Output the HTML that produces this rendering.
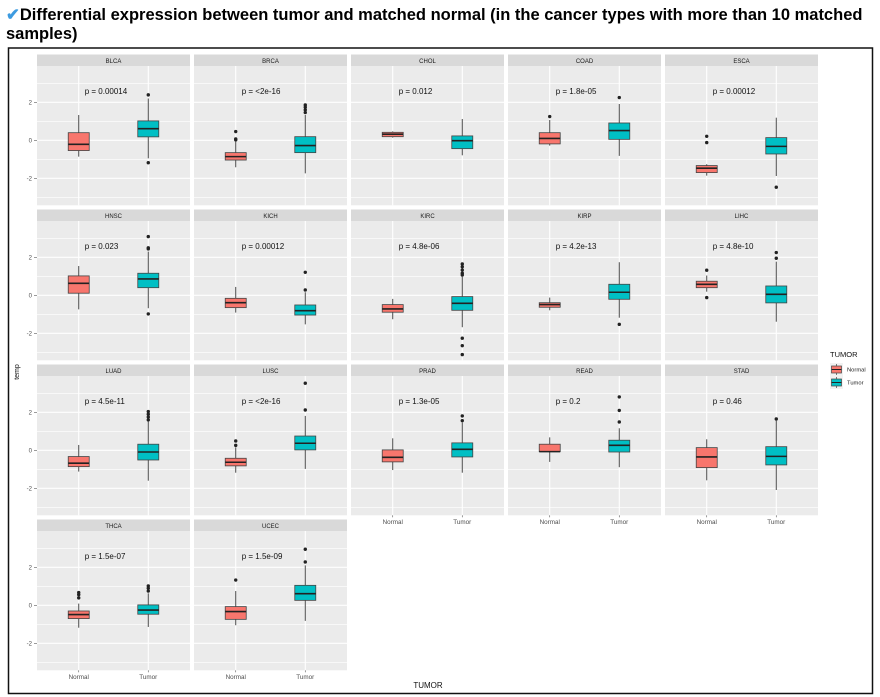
<!DOCTYPE html>
<html><head><meta charset="utf-8"><style>
html,body{margin:0;padding:0;background:#fff;width:880px;height:697px;overflow:hidden}
#title{position:absolute;left:6px;top:6px;width:870px;font:bold 16.5px "Liberation Sans",sans-serif;line-height:19px;color:#000}
#title .chk{color:#3d9be0}
svg{position:absolute;left:0;top:0}
text{font-family:"Liberation Sans",sans-serif}
</style></head><body>
<div id="title"><span class="chk">✔</span>Differential expression between tumor and matched normal (in the cancer types with more than 10 matched samples)</div>
<svg id="chart" width="880" height="697">
<rect x="8.5" y="48" width="864" height="645.5" fill="none" stroke="#111" stroke-width="1.5"/>
</svg>
<script>
const cancers=["BLCA","BRCA","CHOL","COAD","ESCA","HNSC","KICH","KIRC","KIRP","LIHC","LUAD","LUSC","PRAD","READ","STAD","THCA","UCEC"];
const pvals=["0.00014","<2e-16","0.012","1.8e-05","0.00012","0.023","0.00012","4.8e-06","4.2e-13","4.8e-10","4.5e-11","<2e-16","1.3e-05","0.2","0.46","1.5e-07","1.5e-09"];
// [lowWhisker, q1, median, q3, highWhisker]
const normalStats=[[-0.86,-0.54,-0.21,0.40,1.33],[-1.42,-1.04,-0.86,-0.65,-0.07],[0.14,0.19,0.32,0.42,0.47],[-0.28,-0.19,0.10,0.40,1.07],[-1.86,-1.70,-1.47,-1.33,-1.26],[-0.74,0.11,0.63,1.02,1.54],[-0.91,-0.65,-0.39,-0.16,0.44],[-1.26,-0.89,-0.72,-0.49,-0.19],[-0.79,-0.63,-0.49,-0.39,-0.12],[0.19,0.40,0.58,0.74,1.04],[-1.12,-0.86,-0.68,-0.33,0.28],[-1.18,-0.82,-0.63,-0.42,0.16],[-1.04,-0.61,-0.37,0.02,0.63],[-0.61,-0.07,-0.07,0.32,0.68],[-1.58,-0.91,-0.35,0.14,0.58],[-1.18,-0.70,-0.49,-0.30,0.09],[-1.05,-0.74,-0.33,-0.07,0.75]];
const tumorStats=[[-0.95,0.18,0.61,1.02,2.2],[-1.74,-0.65,-0.28,0.19,1.33],[-0.79,-0.44,-0.02,0.23,1.12],[-0.82,0.05,0.51,0.91,1.91],[-1.88,-0.72,-0.32,0.14,1.19],[-0.68,0.40,0.86,1.16,2.3],[-1.53,-1.04,-0.81,-0.51,0.16],[-1.68,-0.79,-0.42,-0.07,0.98],[-1.18,-0.21,0.16,0.58,1.74],[-1.39,-0.40,0.05,0.49,1.77],[-1.60,-0.51,-0.09,0.32,1.51],[-0.98,0.02,0.37,0.75,1.81],[-1.18,-0.35,0.05,0.39,1.46],[-0.89,-0.09,0.26,0.53,1.16],[-2.09,-0.77,-0.32,0.19,1.56],[-1.14,-0.47,-0.25,0.02,0.63],[-0.82,0.26,0.61,1.05,2.1]];
const normalOutliers=[[],[0.46,0.07,0.02],[],[1.25],[0.21,-0.12],[],[],[],[],[1.32,-0.12],[],[0.49,0.26],[],[],[],[0.67,0.56,0.39],[1.33]];
const tumorOutliers=[[2.39,-1.18],[1.86,1.74,1.6,1.46],[],[2.25],[-2.47],[3.09,2.5,2.44,-0.98],[1.21,0.28],[1.65,1.5,1.33,1.16,1.07,-2.26,-2.65,-3.12],[-1.53],[2.25,1.95],[2.04,1.9,1.75,1.6],[3.53,2.12],[1.81,1.56],[2.81,2.1,1.49],[1.65],[1.02,0.9,0.75],[2.95,2.28]];
const groups=["Normal","Tumor"];
const groupColors=["#F8766D","#00BFC4"];
const yTicks=[-2,0,2];
const yMinor=[-3,-1,1,3];

const NS="http://www.w3.org/2000/svg";
const svg=document.getElementById('chart');
function mk(tag,attrs,parent){const e=document.createElementNS(NS,tag);for(const k in attrs)e.setAttribute(k,attrs[k]);(parent||svg).appendChild(e);return e;}
const COL0=37,COLP=157,PW=153,ROW0=54.5,ROWP=155,STRIPH=11.5,PH=139.3,YMAX=3.91,PXU=19;
function panelX(i){return COL0+(i%5)*COLP;}
function panelY(i){return ROW0+Math.floor(i/5)*ROWP;}
function yScale(i,v){return panelY(i)+STRIPH+(YMAX-v)*PXU;}
function xScale(i,g){return panelX(i)+PW*(0.6+g)/2.2;}
const ncol=5,n=cancers.length;
cancers.forEach((c,i)=>{
  const px=panelX(i),py=panelY(i);
  const g=mk('g',{});
  
  
  const strip=mk('rect',{x:px,y:py,width:PW,height:STRIPH,fill:'#D9D9D9'},g);
  
  
  const st=mk('text',{x:px+PW/2,y:py+8.3,'font-size':'6','text-anchor':'middle',fill:'#1a1a1a'},g);st.textContent=c;
  
  
  const top=py+STRIPH;
  const bg=mk('rect',{x:px,y:top,width:PW,height:PH,fill:'#EBEBEB'},g);
  
  
  yMinor.forEach(v=>{const y=yScale(i,v);mk('line',{x1:px,x2:px+PW,y1:y,y2:y,stroke:'#fff','stroke-width':0.6},g);});
  yTicks.forEach(v=>{const y=yScale(i,v);mk('line',{x1:px,x2:px+PW,y1:y,y2:y,stroke:'#fff','stroke-width':1.1},g);});
  groups.forEach((gn,k)=>{const x=xScale(i,k);mk('line',{x1:x,x2:x,y1:top,y2:top+PH,stroke:'#fff','stroke-width':1.1},g);});
  // y axis labels for first column
  if(i%ncol===0){yTicks.forEach(v=>{const y=yScale(i,v);
    const t=mk('text',{x:px-5,y:y+2,'font-size':'6','text-anchor':'end',fill:'#4d4d4d'},g);t.textContent=v<0?'-'+Math.abs(v):String(v);
    
    
    mk('line',{x1:px-3,x2:px,y1:y,y2:y,stroke:'#555','stroke-width':0.6},g);});}
  // x labels if no panel below
  if(i+ncol>=n){groups.forEach((gn,k)=>{const x=xScale(i,k);
    mk('line',{x1:x,x2:x,y1:top+PH,y2:top+PH+2,stroke:'#555','stroke-width':0.6},g);
    const t=mk('text',{x:x,y:top+PH+8.5,'font-size':'6.3','text-anchor':'middle',fill:'#4d4d4d'},g);t.textContent=gn;
    
    });}
  const stats=[normalStats[i],tumorStats[i]],outs=[normalOutliers[i],tumorOutliers[i]];
  groups.forEach((gn,k)=>{
    const s=stats[k],x=xScale(i,k),bw=21;
    const bx=mk('g',{},g);
    
    
    mk('line',{x1:x,x2:x,y1:yScale(i,s[4]),y2:yScale(i,s[3]),stroke:'#4a4a4a','stroke-width':1},bx);
    mk('line',{x1:x,x2:x,y1:yScale(i,s[1]),y2:yScale(i,s[0]),stroke:'#4a4a4a','stroke-width':1},bx);
    mk('rect',{x:x-bw/2,y:yScale(i,s[3]),width:bw,height:Math.max(1,yScale(i,s[1])-yScale(i,s[3])),fill:groupColors[k],stroke:'#444','stroke-width':0.8},bx);
    mk('line',{x1:x-bw/2,x2:x+bw/2,y1:yScale(i,s[2]),y2:yScale(i,s[2]),stroke:'#222','stroke-width':1.6},bx);
    outs[k].forEach(v=>{const d=mk('circle',{cx:x,cy:yScale(i,v),r:1.7,fill:'#222'},bx);
      
      });
  });
  const pt=mk('text',{x:xScale(i,0)+6,y:yScale(i,2.6)+3,'font-size':'8','fill':'#111'},g);pt.textContent='p = '+pvals[i];
  
  
});
// axis titles
const yt=mk('text',{x:0,y:0,'font-size':'7','text-anchor':'middle',fill:'#111',transform:'translate(19,372) rotate(-90)'});yt.textContent='temp';


const xt=mk('text',{x:428,y:688,'font-size':'8','text-anchor':'middle',fill:'#111'});xt.textContent='TUMOR';


// legend
const lg=mk('g',{});


const lt=mk('text',{x:830,y:357,'font-size':'7.5',fill:'#111'},lg);lt.textContent='TUMOR';
groups.forEach((gn,k)=>{
  const y=363+k*13;
  const e=mk('g',{},lg);
  
  
  mk('rect',{x:830,y:y,width:13,height:13,fill:'#F2F2F2'},e);
  mk('line',{x1:836.5,x2:836.5,y1:y+1,y2:y+12,stroke:'#444','stroke-width':0.7},e);
  mk('rect',{x:831.5,y:y+3,width:10,height:7,fill:groupColors[k],stroke:'#444','stroke-width':0.7},e);
  mk('line',{x1:831.5,x2:841.5,y1:y+6.5,y2:y+6.5,stroke:'#222','stroke-width':1},e);
  const t=mk('text',{x:847,y:y+8.5,'font-size':'5.8',fill:'#222'},e);t.textContent=gn;
});
</script>
</body></html>
